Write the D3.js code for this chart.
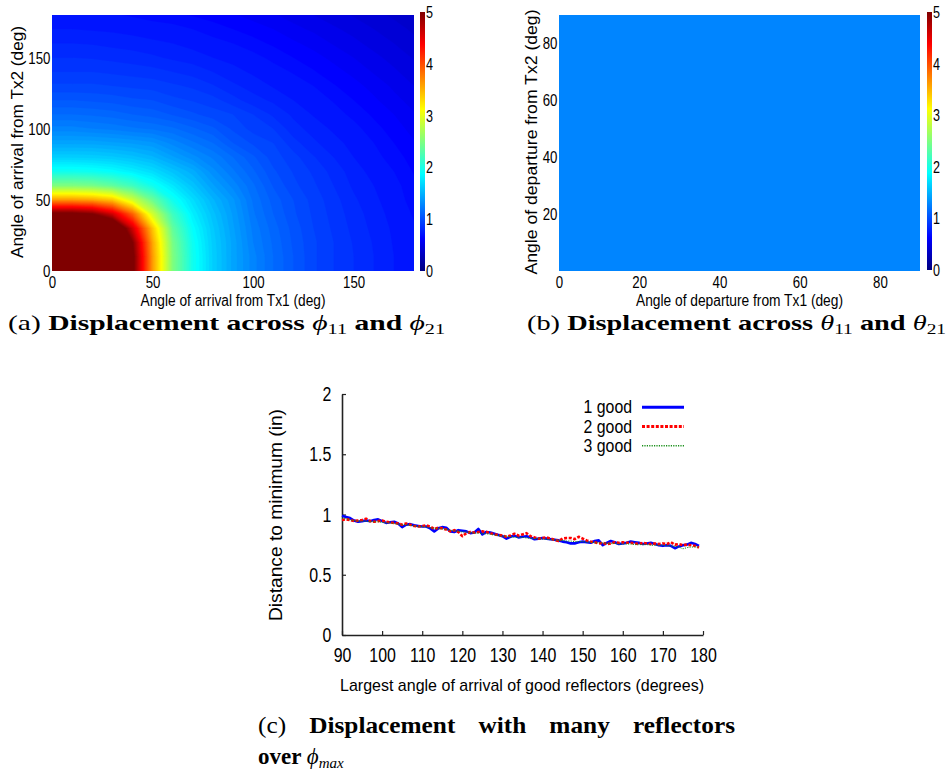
<!DOCTYPE html>
<html>
<head>
<meta charset="utf-8">
<script src="https://cdn.jsdelivr.net/npm/d3@7"></script>
<style>
  body { margin: 0; background: #fff; }
  svg { display: block; }
</style>
</head>
<body>
<div id="chart"></div>
<script>
// ---- data ----
// (a) displacement over arrival angles, sampled every 10 deg (rows: Tx2 angle, cols: Tx1 angle)
var arrivalAngles = [0, 10, 20, 30, 40, 50, 60, 70, 80, 90, 100, 110, 120, 130, 140, 150, 160, 170, 180];
var displacementGrid = [
  [9.0, 8.8, 8.0, 6.6, 5.1, 3.6, 2.5, 1.95, 1.64, 1.43, 1.27, 1.15, 1.05, 0.96, 0.9, 0.85, 0.8, 0.75, 0.72],
  [8.8, 8.7, 7.95, 6.6, 5.1, 3.6, 2.5, 1.95, 1.64, 1.43, 1.27, 1.15, 1.05, 0.96, 0.9, 0.85, 0.8, 0.75, 0.72],
  [8.0, 7.95, 7.6, 6.4, 5.0, 3.55, 2.46, 1.93, 1.63, 1.43, 1.25, 1.14, 1.04, 0.96, 0.9, 0.845, 0.795, 0.745, 0.71],
  [6.6, 6.6, 6.4, 5.7, 4.6, 3.4, 2.35, 1.88, 1.61, 1.41, 1.235, 1.125, 1.03, 0.95, 0.89, 0.835, 0.785, 0.74, 0.705],
  [5.1, 5.1, 5.0, 4.6, 3.9, 2.9, 2.18, 1.8, 1.57, 1.39, 1.21, 1.1, 1.01, 0.94, 0.88, 0.825, 0.775, 0.73, 0.695],
  [3.6, 3.6, 3.55, 3.4, 2.9, 2.4, 1.95, 1.71, 1.51, 1.36, 1.19, 1.08, 1.0, 0.93, 0.87, 0.81, 0.76, 0.725, 0.68],
  [2.5, 2.5, 2.46, 2.35, 2.18, 1.95, 1.76, 1.58, 1.41, 1.28, 1.16, 1.045, 0.965, 0.91, 0.85, 0.79, 0.75, 0.72, 0.665],
  [1.95, 1.95, 1.93, 1.88, 1.8, 1.71, 1.58, 1.47, 1.32, 1.21, 1.11, 1.01, 0.945, 0.89, 0.83, 0.775, 0.73, 0.7, 0.645],
  [1.64, 1.64, 1.63, 1.61, 1.57, 1.51, 1.41, 1.32, 1.24, 1.15, 1.06, 0.975, 0.92, 0.855, 0.8, 0.75, 0.72, 0.675, 0.625],
  [1.43, 1.43, 1.43, 1.41, 1.39, 1.36, 1.28, 1.21, 1.15, 1.05, 0.99, 0.95, 0.87, 0.81, 0.77, 0.73, 0.7, 0.65, 0.605],
  [1.27, 1.27, 1.25, 1.235, 1.21, 1.19, 1.16, 1.11, 1.06, 0.99, 0.93, 0.9, 0.82, 0.78, 0.74, 0.72, 0.67, 0.625, 0.58],
  [1.15, 1.15, 1.14, 1.125, 1.1, 1.08, 1.045, 1.01, 0.975, 0.95, 0.9, 0.84, 0.79, 0.745, 0.725, 0.685, 0.64, 0.6, 0.555],
  [1.05, 1.05, 1.04, 1.03, 1.01, 1.0, 0.965, 0.945, 0.92, 0.87, 0.82, 0.79, 0.75, 0.73, 0.695, 0.65, 0.61, 0.565, 0.53],
  [0.96, 0.96, 0.96, 0.95, 0.94, 0.93, 0.91, 0.89, 0.855, 0.81, 0.78, 0.745, 0.73, 0.7, 0.655, 0.62, 0.58, 0.54, 0.5],
  [0.9, 0.9, 0.9, 0.89, 0.88, 0.87, 0.85, 0.83, 0.8, 0.77, 0.74, 0.725, 0.695, 0.655, 0.62, 0.585, 0.545, 0.51, 0.47],
  [0.85, 0.85, 0.845, 0.835, 0.825, 0.81, 0.79, 0.775, 0.75, 0.73, 0.72, 0.685, 0.65, 0.62, 0.585, 0.55, 0.515, 0.48, 0.445],
  [0.8, 0.8, 0.795, 0.785, 0.775, 0.76, 0.75, 0.73, 0.72, 0.7, 0.67, 0.64, 0.61, 0.58, 0.545, 0.515, 0.48, 0.45, 0.415],
  [0.75, 0.75, 0.745, 0.74, 0.73, 0.725, 0.72, 0.7, 0.675, 0.65, 0.625, 0.6, 0.565, 0.54, 0.51, 0.48, 0.45, 0.42, 0.39],
  [0.72, 0.72, 0.71, 0.705, 0.695, 0.68, 0.665, 0.645, 0.625, 0.605, 0.58, 0.555, 0.53, 0.5, 0.47, 0.445, 0.415, 0.39, 0.36]
];
var arrivalTicks = [0, 50, 100, 150];

// (b) displacement over departure angles: flat everywhere
var departureAngles = [0, 90];
var departureGrid = [
  [1.25, 1.25],
  [1.25, 1.25]
];
var departureXTicks = [0, 20, 40, 60, 80];
var departureYTicks = [20, 40, 60, 80];

var colorbarTicks = [0, 1, 2, 3, 4, 5];

// (c) distance to minimum vs largest angle of arrival
var maxAngles = [90, 91, 92, 93, 94, 95, 96, 97, 98, 99, 100, 101, 102, 103, 104, 105, 106, 107, 108, 109,
  110, 111, 112, 113, 114, 115, 116, 117, 118, 119, 120, 121, 122, 123, 124, 125, 126, 127, 128, 129,
  130, 131, 132, 133, 134, 135, 136, 137, 138, 139, 140, 141, 142, 143, 144, 145, 146, 147, 148, 149,
  150, 151, 152, 153, 154, 155, 156, 157, 158, 159, 160, 161, 162, 163, 164, 165, 166, 167, 168, 169,
  170, 171, 172, 173, 174, 175, 176, 177, 178, 179];
var oneGood = [0.99, 0.98, 0.97, 0.95, 0.94, 0.945, 0.95, 0.945, 0.955, 0.96,
  0.945, 0.93, 0.935, 0.94, 0.925, 0.895, 0.915, 0.92, 0.91, 0.905,
  0.9, 0.9, 0.885, 0.86, 0.885, 0.895, 0.89, 0.86, 0.855, 0.87,
  0.865, 0.86, 0.845, 0.85, 0.88, 0.835, 0.855, 0.85, 0.84, 0.83,
  0.82, 0.8, 0.815, 0.825, 0.81, 0.815, 0.82, 0.81, 0.795, 0.8,
  0.805, 0.8, 0.795, 0.79, 0.785, 0.775, 0.77, 0.76, 0.76, 0.77,
  0.775, 0.77, 0.765, 0.78, 0.785, 0.745, 0.765, 0.78, 0.77, 0.755,
  0.76, 0.765, 0.775, 0.77, 0.765, 0.755, 0.76, 0.765, 0.755, 0.745,
  0.74, 0.745, 0.74, 0.72, 0.735, 0.745, 0.75, 0.765, 0.755, 0.74];
var twoGood = [0.955, 0.96, 0.955, 0.945, 0.95, 0.955, 0.965, 0.945, 0.94, 0.945,
  0.95, 0.94, 0.935, 0.93, 0.925, 0.915, 0.925, 0.915, 0.905, 0.9,
  0.905, 0.91, 0.9, 0.88, 0.89, 0.885, 0.875, 0.86, 0.87, 0.855,
  0.82, 0.845, 0.855, 0.85, 0.855, 0.86, 0.855, 0.845, 0.835, 0.83,
  0.825, 0.815, 0.825, 0.84, 0.825, 0.835, 0.845, 0.82, 0.81, 0.8,
  0.805, 0.81, 0.8, 0.79, 0.78, 0.8, 0.805, 0.805, 0.795, 0.815,
  0.8, 0.785, 0.775, 0.77, 0.76, 0.765, 0.755, 0.76, 0.77, 0.765,
  0.77, 0.765, 0.765, 0.76, 0.755, 0.765, 0.76, 0.755, 0.76, 0.755,
  0.76, 0.755, 0.77, 0.75, 0.755, 0.745, 0.75, 0.745, 0.74, 0.725];
var threeGood = [0.97, 0.965, 0.955, 0.95, 0.945, 0.945, 0.945, 0.94, 0.94, 0.94,
  0.935, 0.93, 0.93, 0.925, 0.92, 0.915, 0.915, 0.91, 0.905, 0.9,
  0.9, 0.895, 0.89, 0.885, 0.885, 0.88, 0.875, 0.87, 0.865, 0.86,
  0.855, 0.855, 0.85, 0.845, 0.845, 0.84, 0.84, 0.835, 0.83, 0.825,
  0.82, 0.82, 0.815, 0.81, 0.81, 0.81, 0.805, 0.8, 0.8, 0.8,
  0.795, 0.795, 0.79, 0.79, 0.785, 0.785, 0.78, 0.78, 0.775, 0.775,
  0.775, 0.77, 0.77, 0.765, 0.765, 0.765, 0.76, 0.76, 0.76, 0.755,
  0.755, 0.755, 0.755, 0.75, 0.75, 0.75, 0.75, 0.745, 0.745, 0.745,
  0.745, 0.74, 0.74, 0.735, 0.73, 0.715, 0.725, 0.73, 0.73, 0.73];
var angleTicks = [90, 100, 110, 120, 130, 140, 150, 160, 170, 180];
var distanceTicks = [0, 0.5, 1, 1.5, 2];

// ---- setup ----
var sans = "Liberation Sans, Arial, sans-serif";
var serif = "Liberation Serif, Times New Roman, serif";

var svg = d3.select("#chart").append("svg").attr("width", 951).attr("height", 772);
var defs = svg.append("defs");

// matlab jet colormap over 0..5
var jet = d3.scaleLinear()
  .domain([0, 0.625, 1.875, 3.125, 4.375, 5])
  .range(["#00007f", "#0000ff", "#00ffff", "#ffff00", "#ff0000", "#7f0000"])
  .clamp(true);
var levels = d3.range(6, 101).map(function(k) { return k / 20; });

var grad = defs.append("linearGradient").attr("id", "jetGrad")
  .attr("x1", 0).attr("y1", 1).attr("x2", 0).attr("y2", 0);
jet.domain().forEach(function(v) {
  grad.append("stop").attr("offset", v / 5).attr("stop-color", jet(v));
});

function heatmap(grid, angles, x, y, clipId) {
  var n = angles.length;
  var pos = d3.scaleLinear().domain([0.5, n - 0.5]).range([angles[0], angles[n - 1]]);
  var proj = d3.geoTransform({
    point: function(px, py) { this.stream.point(x(pos(px)), y(pos(py))); }
  });
  var path = d3.geoPath(proj);
  var contours = d3.contours().size([n, n]).thresholds(levels)(d3.merge(grid));
  var r0 = x.range(), r1 = y.range();
  defs.append("clipPath").attr("id", clipId).append("rect")
    .attr("x", r0[0]).attr("y", r1[1])
    .attr("width", r0[1] - r0[0]).attr("height", r1[0] - r1[1]);
  svg.append("g").attr("clip-path", "url(#" + clipId + ")")
    .selectAll("path").data(contours).join("path")
      .attr("d", path)
      .attr("fill", function(d) { return jet(d.value + 0.025); })
      .attr("stroke", function(d) { return jet(d.value + 0.025); })
      .attr("stroke-width", 0.3);
}

function colorbar(x, top, bottom) {
  var c = d3.scaleLinear().domain([0, 5]).range([bottom, top]);
  svg.append("rect").attr("x", x).attr("y", top).attr("width", 5).attr("height", bottom - top)
    .attr("fill", "url(#jetGrad)");
  svg.append("g").selectAll("text").data(colorbarTicks).join("text")
    .attr("transform", function(d) { return "translate(" + (x + 6) + "," + c(d) + ") scale(0.74,1)"; })
    .attr("dy", "0.35em")
    .attr("font-family", sans).attr("font-size", 17)
    .text(function(d) { return d; });
}

function heatAxes(x, y, xt, yt, xlabel, xlen, ylabel, ylen, ylabX) {
  var ax = svg.append("g").attr("transform", "translate(0," + y.range()[0] + ")")
    .call(d3.axisBottom(x).tickValues(xt).tickSize(0).tickPadding(5));
  var ay = svg.append("g").attr("transform", "translate(" + x.range()[0] + ",0)")
    .call(d3.axisLeft(y).tickValues(yt).tickSize(0).tickPadding(2));
  [ax, ay].forEach(function(a) {
    a.select(".domain").remove();
    a.attr("font-family", sans).attr("font-size", 17);
    a.selectAll("text").attr("fill", "#000").attr("transform", "scale(0.78,1)");
  });
  var xm = (x.range()[0] + x.range()[1]) / 2;
  svg.append("text").attr("x", xm).attr("y", 306).attr("text-anchor", "middle")
    .attr("font-family", sans).attr("font-size", 16)
    .attr("textLength", xlen).attr("lengthAdjust", "spacingAndGlyphs").text(xlabel);
  svg.append("text").attr("transform", "translate(" + ylabX + ",142) rotate(-90)")
    .attr("text-anchor", "middle").attr("dy", "0.35em")
    .attr("font-family", sans).attr("font-size", 17)
    .attr("textLength", ylen).attr("lengthAdjust", "spacingAndGlyphs").text(ylabel);
}

// ---- (a) ----
var xA = d3.scaleLinear().domain([0, 180]).range([52, 414]);
var yA = d3.scaleLinear().domain([0, 180]).range([271, 15]);
heatmap(displacementGrid, arrivalAngles, xA, yA, "clipA");
colorbar(420, 12, 271);
heatAxes(xA, yA, arrivalTicks, arrivalTicks, "Angle of arrival from Tx1 (deg)", 185,
  "Angle of arrival from Tx2 (deg)", 232, 17);

// ---- (b) ----
var xB = d3.scaleLinear().domain([0, 90]).range([559, 920]);
var yB = d3.scaleLinear().domain([0, 90]).range([271, 15]);
heatmap(departureGrid, departureAngles, xB, yB, "clipB");
colorbar(927, 12, 270);
heatAxes(xB, yB, departureXTicks, departureYTicks, "Angle of departure from Tx1 (deg)", 207,
  "Angle of departure from Tx2 (deg)", 265, 531);

// ---- (c) ----
var xC = d3.scaleLinear().domain([90, 180]).range([342, 703]);
var yC = d3.scaleLinear().domain([0, 2]).range([635, 394]);

var axC = svg.append("g").attr("transform", "translate(0,635)")
  .call(d3.axisBottom(xC).tickValues(angleTicks).tickSizeInner(-4).tickSizeOuter(0).tickPadding(12));
var ayC = svg.append("g").attr("transform", "translate(342,0)")
  .call(d3.axisLeft(yC).tickValues(distanceTicks).tickSizeInner(-4).tickSizeOuter(0).tickPadding(14)
    .tickFormat(function(d) { return String(d); }));
[axC, ayC].forEach(function(a) {
  a.attr("font-family", sans).attr("font-size", 21);
  a.select(".domain").attr("stroke", "#222").attr("stroke-width", 1.6);
  a.selectAll(".tick line").attr("stroke", "#222").attr("stroke-width", 1.2);
  a.selectAll("text").attr("fill", "#000").attr("transform", "scale(0.76,1)");
});

var series = [
  { name: "1 good", values: oneGood, color: "#0000ff", width: 2.6, dash: null },
  { name: "2 good", values: twoGood, color: "#ff0000", width: 2.6, dash: "3,1.6" },
  { name: "3 good", values: threeGood, color: "#1a8f1a", width: 1, dash: "1.2,1.2" }
];
var line = d3.line()
  .x(function(d) { return xC(d[0]); })
  .y(function(d) { return yC(d[1]); });

svg.append("g").selectAll("path").data(series).join("path")
  .attr("d", function(s) { return line(d3.zip(maxAngles, s.values)); })
  .attr("fill", "none")
  .attr("stroke", function(s) { return s.color; })
  .attr("stroke-width", function(s) { return s.width; })
  .attr("stroke-dasharray", function(s) { return s.dash; })
  .attr("stroke-linejoin", "round");

var legend = svg.append("g").selectAll("g").data(series).join("g")
  .attr("transform", function(s, i) { return "translate(0," + (407.3 + i * 19.2) + ")"; });
legend.append("line").attr("x1", 642).attr("x2", 684)
  .attr("stroke", function(s) { return s.color; })
  .attr("stroke-width", function(s) { return s.width + 0.4; })
  .attr("stroke-dasharray", function(s) { return s.dash; });
legend.append("text")
  .attr("transform", "translate(632,6) scale(0.88,1)")
  .attr("text-anchor", "end")
  .attr("font-family", sans).attr("font-size", 18)
  .text(function(s) { return s.name; });

svg.append("text").attr("x", 522).attr("y", 691).attr("text-anchor", "middle")
  .attr("font-family", sans).attr("font-size", 17)
  .attr("textLength", 364).attr("lengthAdjust", "spacingAndGlyphs")
  .text("Largest angle of arrival of good reflectors (degrees)");
svg.append("text").attr("transform", "translate(275,515) rotate(-90)")
  .attr("text-anchor", "middle").attr("dy", "0.35em")
  .attr("font-family", sans).attr("font-size", 19)
  .attr("textLength", 212).attr("lengthAdjust", "spacingAndGlyphs")
  .text("Distance to minimum (in)");

// ---- captions ----
function caption(x, y, width, tag, words, sym, sub1, sub2) {
  var t = svg.append("text").attr("x", x).attr("y", y)
    .attr("font-family", serif).attr("font-size", 22)
    .attr("textLength", width).attr("lengthAdjust", "spacingAndGlyphs");
  t.append("tspan").text(tag + " ");
  t.append("tspan").attr("font-weight", "bold").text(words + " ");
  t.append("tspan").attr("font-style", "italic").text(sym);
  t.append("tspan").attr("font-size", 15).attr("dy", 4).text(sub1);
  t.append("tspan").attr("dy", -4).attr("font-weight", "bold").text(" and ");
  t.append("tspan").attr("font-style", "italic").text(sym);
  t.append("tspan").attr("font-size", 15).attr("dy", 4).text(sub2);
}
caption(8, 330, 437, "(a)", "Displacement across", "\u03d5", "11", "21");
caption(527, 330, 419, "(b)", "Displacement across", "\u03b8", "11", "21");

var capLeft = 258, capRight = 735;
var capWords = ["(c)", "Displacement", "with", "many", "reflectors"];
var capNodes = capWords.map(function(w, i) {
  return svg.append("text").attr("y", 733)
    .attr("font-family", serif).attr("font-size", 23)
    .attr("font-weight", i ? "bold" : null).text(w);
});
var capW = capNodes.map(function(n) {
  var w = n.node().getComputedTextLength() * 1.1;
  n.attr("textLength", w).attr("lengthAdjust", "spacingAndGlyphs");
  return w;
});
var gap = (capRight - capLeft - d3.sum(capW)) / (capWords.length - 1);
var cx = capLeft;
capNodes.forEach(function(n, i) { n.attr("x", cx); cx += capW[i] + gap; });

var c2 = svg.append("text").attr("x", capLeft).attr("y", 764)
  .attr("font-family", serif).attr("font-size", 23);
c2.append("tspan").attr("font-weight", "bold").text("over ");
c2.append("tspan").attr("font-style", "italic").text("\u03d5");
c2.append("tspan").attr("font-style", "italic").attr("font-size", 15).attr("dy", 4).text("max");
</script>
</body>
</html>
